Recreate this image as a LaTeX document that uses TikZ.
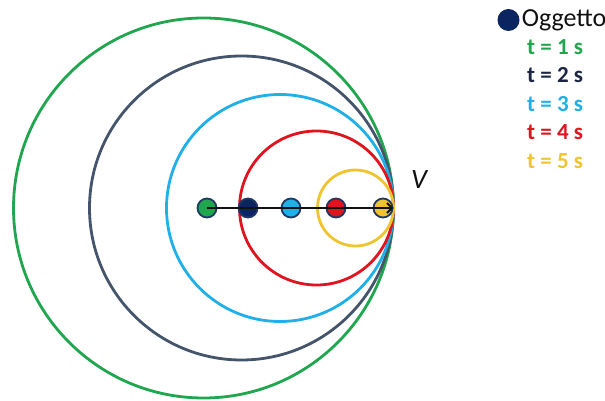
\documentclass[tikz,border=0pt]{standalone}
\usepackage{fontspec}
\setmainfont{Carlito}
\usetikzlibrary{arrows.meta, positioning}
\definecolor{dpInk}{HTML}{111111}
\definecolor{dpGreen}{HTML}{1FA64E}
\definecolor{dpSlate}{HTML}{44546A}
\definecolor{dpNavy}{HTML}{0B2561}
\definecolor{dpText}{HTML}{1C2541}
\definecolor{dpSky}{HTML}{1EB0E6}
\definecolor{dpRed}{HTML}{E0141E}
\definecolor{dpGold}{HTML}{F0C330}
\definecolor{dpRim}{HTML}{1F3864}
\tikzset{
  wave/.style={line width=2.8pt},
  obj/.style={circle, draw=dpRim, line width=1.8pt, minimum size=19pt, inner sep=0pt},
  tlbl/.style={font=\fontsize{23}{26}\selectfont\bfseries, inner sep=0pt,
    text height=15pt, text depth=0pt},
  vel/.style={-{Straight Barb[length=5pt, width=10pt, line width=2pt]}, line width=2.4pt, draw=dpInk},
}
\begin{document}
\begin{tikzpicture}[x=1pt, y=1pt]
  \useasboundingbox (0,0) rectangle (605,401);
  % wave fronts, all touching at the front
  \draw[wave, dpGreen] (203.5,193) circle[radius=190pt];
  \draw[wave, dpSlate] (241.5,193) circle[radius=152pt];
  \draw[wave, dpSky]   (280,193)   circle[radius=113.5pt];
  \draw[wave, dpRed]   (316.5,193) circle[radius=77pt];
  \draw[wave, dpGold]  (355.5,193) circle[radius=38pt];
  % object positions
  \node[obj, fill=dpGreen] (p1) at (207,193) {};
  \node[obj, fill=dpNavy]  (p2) at (248,193) {};
  \node[obj, fill=dpSky]   (p3) at (291,193) {};
  \node[obj, fill=dpRed]   (p4) at (336,193) {};
  \node[obj, fill=dpGold]  (p5) at (383,193) {};
  \draw[vel] (p1.center) -- (p5.east);
  \node[font=\fontsize{28}{32}\selectfont\itshape, text=dpInk] (v) at (419,221) {V};
  % legend
  \node[circle, fill=dpNavy, minimum size=22pt, inner sep=0pt] (key) at (508.5,381) {};
  \node[right=2pt of key, inner sep=0pt, font=\fontsize{26}{30}\selectfont, text=dpInk] (obj) {Oggetto};
  \node[tlbl, text=dpGreen, anchor=west] (t1) at (527,354) {t = 1 s};
  \node[tlbl, text=dpText, below=13pt of t1] (t2) {t = 2 s};
  \node[tlbl, text=dpSky, below=13pt of t2] (t3) {t = 3 s};
  \node[tlbl, text=dpRed, below=13pt of t3] (t4) {t = 4 s};
  \node[tlbl, text=dpGold, below=13pt of t4] (t5) {t = 5 s};
\end{tikzpicture}
\end{document}
